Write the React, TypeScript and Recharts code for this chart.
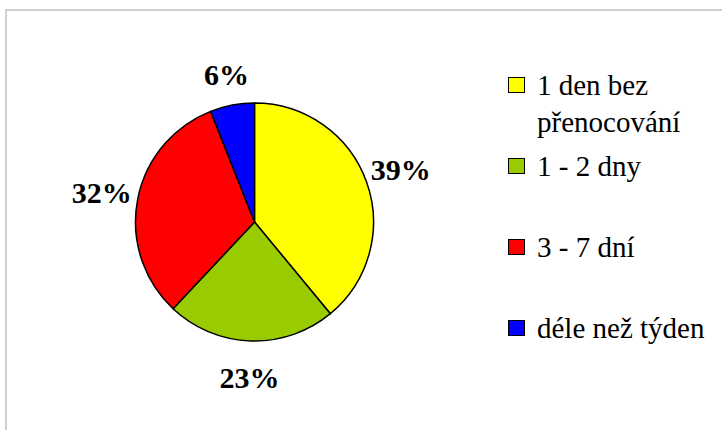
import * as React from "react"
import { PieChart, Pie, Cell } from "recharts"

const categories = ["1 den bez přenocování", "1 - 2 dny", "3 - 7 dní", "déle než týden"]
const shares = [39, 23, 32, 6]
const colors = ["#ffff00", "#99cc00", "#ff0000", "#0000ff"]

const data = categories.map((name, i) => ({ name, value: shares[i] }))

const RADIAN = Math.PI / 180
const FONT = "'Liberation Serif', 'Times New Roman', serif"
const LABEL_SIZE = 30

const renderLabel = ({ cx, cy, midAngle, outerRadius, value }: any) => {
  const text = `${value}%`
  // rough half-width of the label: digits ~0.5em, percent ~1em
  const halfW = ((text.length - 1) * 0.5 + 1) * LABEL_SIZE / 2
  const r = outerRadius + 14 + 0.75 * halfW
  const x = cx + r * Math.cos(-midAngle * RADIAN)
  const y = cy + r * Math.sin(-midAngle * RADIAN)
  return (
    <text
      x={x}
      y={y}
      fill="#000"
      textAnchor="middle"
      dominantBaseline="central"
      style={{ fontFamily: FONT, fontWeight: "bold", fontSize: LABEL_SIZE }}
    >
      {text}
    </text>
  )
}

function ChartLegend() {
  return (
    <div style={{ position: "absolute", left: 508, top: 67, width: 214, fontFamily: FONT, fontSize: 29, color: "#000" }}>
      {categories.map((name, i) => (
        <div key={`leg-${i}`} style={{ display: "flex", alignItems: "flex-start", height: 81 }}>
          <span
            style={{
              width: 15,
              height: 14,
              marginTop: 10,
              marginRight: 12,
              flex: "none",
              background: colors[i],
              border: "1.5px solid #000",
            }}
          />
          <span style={{ lineHeight: "37px", width: 185, whiteSpace: "normal" }}>{name}</span>
        </div>
      ))}
    </div>
  )
}

export default function App() {
  return (
    <div style={{ position: "fixed", left: 0, top: 0, width: 722, height: 430, background: "#fff" }}>
      <div
        style={{
          position: "absolute",
          left: 5,
          top: 9,
          right: 0,
          bottom: 0,
          borderLeft: "2px solid #cfcfcf",
          borderTop: "2px solid #cfcfcf",
        }}
      />
      <div style={{ position: "absolute", left: 0, top: 0 }}>
        <PieChart width={722} height={430} margin={{ top: 0, right: 0, bottom: 0, left: 0 }}>
          <Pie
            data={data}
            dataKey="value"
            nameKey="name"
            cx={254.5}
            cy={222}
            outerRadius={119}
            startAngle={90}
            endAngle={-270}
            labelLine={false}
            label={renderLabel}
            isAnimationActive={false}
          >
            {data.map((entry, index) => (
              <Cell key={`cell-${index}`} fill={colors[index]} stroke="#000" strokeWidth={1.5} />
            ))}
          </Pie>
        </PieChart>
      </div>
      <ChartLegend />
    </div>
  )
}
